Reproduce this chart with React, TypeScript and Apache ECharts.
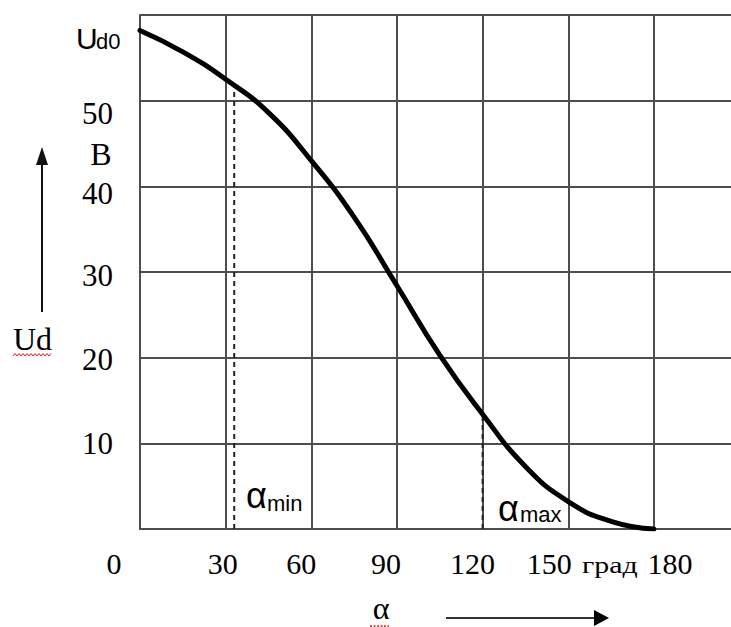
import React, { useEffect, useRef } from 'react';
import * as echarts from 'echarts';

// Control characteristic Ud(α)
const alphaDeg = [0, 15, 30, 45, 60, 75, 90, 105, 120, 135, 150, 165, 180];
const udVolts = [58.2, 55.7, 52.5, 48.6, 43.0, 36.4, 28.4, 20.3, 13.4, 7.3, 3.2, 0.9, 0];

const alphaMin = 33;
const udAtAlphaMin = 51.8;
const alphaMax = 120;
const udAtAlphaMax = 13.4;

const xTickValues = [0, 30, 60, 90, 120, 150, 180];
const xTickLabels = ['0', '30', '60', '90', '120', '150', '180'];
const yTickValues = [10, 20, 30, 40, 50];
const yTickLabels = ['10', '20', '30', '40', '50'];

// label placement nudges (style only)
const xLabelNudge = [-26, -3, -10, -11, -10, -19, 16];
const yLabelNudge = [0, 2, 3, 7, 13];

export default function App() {
  const ref = useRef<HTMLDivElement>(null);

  useEffect(() => {
    const chart = echarts.init(ref.current!, null, { renderer: 'svg' });
    const gridLine = { color: '#4d4d4d', width: 2 };
    chart.setOption({
      animation: false,
      backgroundColor: '#fff',
      grid: { left: 140, right: 19, top: 15, bottom: 98, containLabel: false },
      xAxis: {
        type: 'value',
        min: 0,
        max: 210.5,
        interval: 30,
        axisLine: { show: true, onZero: false, lineStyle: gridLine },
        axisTick: { show: false },
        axisLabel: { show: false },
        splitLine: { show: true, lineStyle: gridLine },
      },
      yAxis: {
        type: 'value',
        min: 0,
        max: 60,
        interval: 10,
        axisLine: { show: true, onZero: false, lineStyle: gridLine },
        axisTick: { show: false },
        axisLabel: { show: false },
        splitLine: { show: true, lineStyle: gridLine },
      },
      series: [
        {
          type: 'line',
          data: alphaDeg.map((a, i) => [a, udVolts[i]]),
          smooth: 0.5,
          symbol: 'none',
          lineStyle: { color: '#000', width: 5, cap: 'round' },
          z: 5,
        },
        {
          type: 'line',
          data: [[alphaMin, 0], [alphaMin, udAtAlphaMin]],
          symbol: 'none',
          lineStyle: { color: '#222', width: 2, type: [5, 4] },
          z: 3,
        },
        {
          type: 'line',
          data: [[alphaMax, 0], [alphaMax, udAtAlphaMax]],
          symbol: 'none',
          lineStyle: { color: '#222', width: 2, type: [5, 4] },
          z: 3,
        },
      ],
    });

    const sans = '"Liberation Sans", Arial, sans-serif';
    const serif = '"Liberation Serif", "Times New Roman", serif';
    const graphics: any[] = [];

    xTickValues.forEach((v, i) => {
      const px = chart.convertToPixel({ xAxisIndex: 0 }, v) as number;
      graphics.push({
        type: 'text',
        x: px + xLabelNudge[i],
        y: 563,
        style: { text: xTickLabels[i], fontSize: 30, fontFamily: serif, fill: '#000', align: 'center', verticalAlign: 'middle' },
      });
    });
    yTickValues.forEach((v, i) => {
      const py = chart.convertToPixel({ yAxisIndex: 0 }, v) as number;
      graphics.push({
        type: 'text',
        x: 113,
        y: py + yLabelNudge[i],
        style: { text: yTickLabels[i], fontSize: 31, fontFamily: serif, fill: '#000', align: 'right', verticalAlign: 'middle' },
      });
    });

    // U_d0
    graphics.push({ type: 'text', x: 76, y: 38, style: { text: 'U', fontSize: 30, fontFamily: sans, fill: '#000', align: 'left', verticalAlign: 'middle' } });
    graphics.push({ type: 'text', x: 96, y: 41, style: { text: 'd0', fontSize: 22, fontFamily: sans, fill: '#000', align: 'left', verticalAlign: 'middle' } });
    // B
    graphics.push({ type: 'text', x: 101, y: 154, style: { text: 'B', fontSize: 32, fontFamily: serif, fill: '#000', align: 'center', verticalAlign: 'middle' } });
    // Ud
    graphics.push({ type: 'text', x: 13, y: 339, style: { text: 'Ud', fontSize: 32, fontFamily: serif, fill: '#000', align: 'left', verticalAlign: 'middle' } });
    // α (axis title)
    graphics.push({ type: 'text', x: 381, y: 608, style: { text: 'α', fontSize: 32, fontFamily: serif, fill: '#000', align: 'center', verticalAlign: 'middle' } });
    // град
    graphics.push({ type: 'text', x: 582, y: 565, scaleX: 1.3, style: { text: 'град', fontSize: 23, fontFamily: serif, fill: '#000', align: 'left', verticalAlign: 'middle' } });
    // α_min
    graphics.push({ type: 'text', x: 246, y: 495, style: { text: 'α', fontSize: 36, fontFamily: sans, fill: '#000', align: 'left', verticalAlign: 'middle' } });
    graphics.push({ type: 'text', x: 267, y: 503, style: { text: 'min', fontSize: 22, fontFamily: sans, fill: '#000', align: 'left', verticalAlign: 'middle' } });
    // α_max
    graphics.push({ type: 'text', x: 498, y: 508, style: { text: 'α', fontSize: 36, fontFamily: sans, fill: '#000', align: 'left', verticalAlign: 'middle' } });
    graphics.push({ type: 'text', x: 520, y: 514, style: { text: 'max', fontSize: 22, fontFamily: sans, fill: '#000', align: 'left', verticalAlign: 'middle' } });

    // arrows
    graphics.push({ type: 'line', shape: { x1: 42, y1: 312, x2: 42, y2: 162 }, style: { stroke: '#111', lineWidth: 2 } });
    graphics.push({ type: 'polygon', shape: { points: [[42, 147], [36, 165], [48, 165]] }, style: { fill: '#111' } });
    graphics.push({ type: 'line', shape: { x1: 446, y1: 618, x2: 596, y2: 618 }, style: { stroke: '#333', lineWidth: 2 } });
    graphics.push({ type: 'polygon', shape: { points: [[609, 618], [594, 610], [594, 626]] }, style: { fill: '#000' } });

    // spell-check underlines
    const wave: number[][] = [];
    for (let x = 13; x <= 52; x += 2) wave.push([x, ((x - 13) / 2) % 2 === 0 ? 356 : 353.5]);
    graphics.push({ type: 'polyline', shape: { points: wave }, style: { stroke: '#e0201a', lineWidth: 1, fill: null } });
    graphics.push({ type: 'line', shape: { x1: 370, y1: 626, x2: 389, y2: 626 }, style: { stroke: '#e0201a', lineWidth: 1.5, lineDash: [2, 1.5] } });

    chart.setOption({ graphic: graphics });
    return () => chart.dispose();
  }, []);

  return (
    <div style={{ position: 'absolute', left: 0, top: 0, width: 731, height: 627, overflow: 'hidden', background: '#fff' }}>
      <div ref={ref} style={{ width: 760, height: 627 }} />
    </div>
  );
}
